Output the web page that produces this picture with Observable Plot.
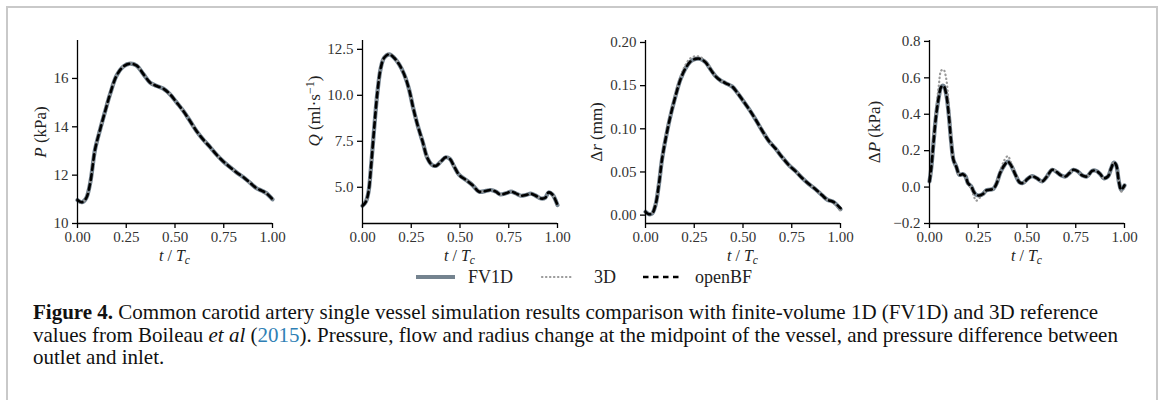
<!DOCTYPE html>
<html>
<head>
<meta charset="utf-8">
<script src="https://cdn.jsdelivr.net/npm/d3@7"></script>
<script src="https://cdn.jsdelivr.net/npm/@observablehq/plot@0.6"></script>
<style>
  html, body { margin: 0; padding: 0; background: #fff; }
  body { width: 1165px; height: 400px; overflow: hidden; position: relative; font-family: "Liberation Serif", serif; }
  #frame { position: absolute; left: 6px; top: 6px; width: 1148px; height: 400px; border: 2px solid #c9c9c9; border-bottom: none; }
  .panel { position: absolute; top: 0; }
  #legend { position: absolute; left: 0; top: 0; }
  #caption { position: absolute; left: 33px; top: 301px; line-height: 22.5px; white-space: nowrap; color: #111; font-size: 18px; }
  #caption .blue { color: #2f7fb5; }
</style>
</head>
<body>
<div id="frame"></div>
<div id="panels"></div>
<svg id="legend" width="1165" height="300"></svg>
<div id="caption">
  <span id="line1"><b>Figure 4.</b> Common carotid artery single vessel simulation results comparison with finite-volume 1D (FV1D) and 3D reference</span><br>
  <span>values from Boileau <i>et al</i> (<span class="blue">2015</span>). Pressure, flow and radius change at the midpoint of the vessel, and pressure difference between</span><br>
  <span>outlet and inlet.</span>
</div>
<script>
// ---------- data ----------
// Panel 1: pressure P (kPa)
const tP      = [0, .022, .044, .065, .09, .116, .142, .167, .2, .236, .27, .304, .338, .372, .406, .44, .474, .509, .543, .577, .611, .645, .679, .713, .747, .782, .816, .85, .884, .918, .944, .969, 1];
const pFV1D   = [10.97, 10.88, 11.04, 11.67, 13.06, 13.89, 14.65, 15.35, 16.11, 16.5, 16.61, 16.53, 16.18, 15.83, 15.69, 15.58, 15.35, 15.0, 14.65, 14.24, 13.82, 13.47, 13.17, 12.85, 12.57, 12.33, 12.11, 11.92, 11.69, 11.46, 11.36, 11.25, 11.0];
const p3D     = [10.97, 10.88, 11.04, 11.67, 13.06, 13.89, 14.65, 15.35, 16.11, 16.5, 16.62, 16.54, 16.18, 15.83, 15.69, 15.58, 15.35, 15.0, 14.65, 14.24, 13.82, 13.47, 13.17, 12.85, 12.57, 12.33, 12.11, 11.92, 11.69, 11.46, 11.36, 11.25, 11.0];
const pOpenBF = [10.97, 10.88, 11.04, 11.67, 13.06, 13.89, 14.65, 15.35, 16.11, 16.5, 16.61, 16.53, 16.18, 15.83, 15.69, 15.58, 15.35, 15.0, 14.65, 14.24, 13.82, 13.47, 13.17, 12.85, 12.57, 12.33, 12.11, 11.92, 11.69, 11.46, 11.36, 11.25, 11.0];

// Panel 2: flow Q (ml/s)
const tQ      = [0, .017, .031, .043, .06, .077, .094, .111, .137, .162, .188, .214, .239, .26, .282, .308, .333, .356, .376, .402, .427, .448, .47, .496, .53, .564, .598, .632, .658, .684, .706, .735, .761, .786, .812, .838, .863, .889, .915, .937, .954, .974, 1];
const qFV1D   = [3.99, 4.21, 4.76, 6.03, 8.22, 10.22, 11.5, 12.04, 12.23, 12.04, 11.68, 11.13, 10.31, 9.31, 8.4, 7.49, 6.58, 6.22, 6.16, 6.4, 6.63, 6.54, 6.13, 5.67, 5.4, 5.12, 4.76, 4.8, 4.85, 4.76, 4.61, 4.67, 4.76, 4.67, 4.54, 4.58, 4.65, 4.54, 4.39, 4.43, 4.72, 4.61, 4.03];
const q3D     = [3.99, 4.21, 4.76, 6.03, 8.22, 10.22, 11.5, 12.06, 12.25, 12.06, 11.68, 11.13, 10.31, 9.31, 8.4, 7.49, 6.58, 6.22, 6.16, 6.4, 6.63, 6.54, 6.13, 5.67, 5.4, 5.12, 4.76, 4.8, 4.85, 4.76, 4.61, 4.67, 4.76, 4.67, 4.54, 4.58, 4.65, 4.54, 4.39, 4.43, 4.72, 4.61, 4.03];
const qOpenBF = [3.99, 4.21, 4.76, 6.03, 8.22, 10.22, 11.5, 12.04, 12.23, 12.04, 11.68, 11.13, 10.31, 9.31, 8.4, 7.49, 6.58, 6.22, 6.16, 6.4, 6.63, 6.54, 6.13, 5.67, 5.4, 5.12, 4.76, 4.8, 4.85, 4.76, 4.61, 4.67, 4.76, 4.67, 4.54, 4.58, 4.65, 4.54, 4.39, 4.43, 4.72, 4.61, 4.03];

// Panel 3: radius change Δr (mm)
const tR      = [0, .017, .034, .051, .068, .085, .103, .128, .154, .179, .205, .231, .256, .282, .308, .333, .359, .385, .41, .444, .47, .496, .53, .564, .598, .632, .667, .701, .735, .769, .803, .838, .872, .906, .932, .966, 1];
const rFV1D   = [.0038, .0011, .0019, .0115, .0345, .065, .088, .115, .138, .157, .170, .178, .181, .181, .177, .169, .161, .156, .153, .149, .142, .134, .123, .111, .098, .086, .077, .067, .058, .051, .043, .036, .030, .023, .018, .015, .007];
const r3D     = [.0040, .0015, .0025, .0125, .036, .067, .090, .117, .140, .160, .174, .182, .184, .183, .178, .170, .161, .156, .153, .149, .142, .134, .123, .111, .098, .086, .077, .067, .058, .051, .043, .036, .030, .023, .018, .014, .005];
const rOpenBF = [.0038, .0011, .0019, .0115, .0345, .065, .088, .115, .138, .157, .170, .178, .181, .181, .177, .169, .161, .156, .153, .149, .142, .134, .123, .111, .098, .086, .077, .067, .058, .051, .043, .036, .030, .023, .018, .015, .008];

// Panel 4: pressure difference ΔP (kPa)
const tD      = [0, .009, .021, .034, .048, .06, .072, .085, .099, .111, .123, .137, .154, .171, .185, .197, .214, .226, .239, .256, .274, .291, .308, .328, .345, .362, .385, .402, .419, .441, .462, .479, .504, .526, .55, .578, .602, .629, .653, .675, .697, .718, .738, .761, .783, .807, .834, .855, .876, .893, .915, .932, .946, .957, .971, .983, 1];
const dFV1D   = [.031, .104, .25, .395, .496, .55, .556, .514, .395, .25, .149, .113, .067, .071, .058, .022, .004, -.024, -.042, -.046, -.038, -.018, -.015, -.009, .022, .077, .122, .140, .118, .067, .026, .022, .046, .06, .049, .031, .058, .095, .082, .064, .058, .077, .095, .086, .064, .058, .089, .089, .071, .049, .058, .104, .135, .122, .031, -.015, .009];
const d3D     = [.03, .10, .26, .42, .56, .64, .645, .60, .45, .27, .15, .11, .066, .07, .056, .02, -.01, -.045, -.075, -.06, -.04, -.02, -.015, -.01, .025, .085, .15, .17, .13, .07, .026, .022, .046, .06, .049, .031, .058, .098, .084, .064, .058, .077, .095, .086, .064, .058, .089, .089, .071, .049, .058, .104, .135, .122, .03, -.025, .0];
const dOpenBF = [.031, .104, .25, .395, .496, .55, .556, .514, .395, .25, .149, .113, .067, .071, .058, .022, .004, -.024, -.042, -.046, -.038, -.018, -.015, -.009, .022, .077, .122, .140, .118, .067, .026, .022, .046, .06, .049, .031, .058, .095, .082, .064, .058, .077, .095, .086, .064, .058, .089, .089, .071, .049, .058, .104, .135, .122, .031, -.015, .009];

// Tick values
const xTicks  = [0, 0.25, 0.5, 0.75, 1];
const pTicks  = [10, 12, 14, 16];
const qTicks  = [5, 7.5, 10, 12.5];
const rTicks  = [0, 0.05, 0.10, 0.15, 0.20];
const dTicks  = [-0.2, 0, 0.2, 0.4, 0.6, 0.8];

// Legend
const seriesNames = ["FV1D", "3D", "openBF"];

// ---------- styles ----------
const FONT = "'Liberation Serif', 'Times New Roman', serif";
const styleFV = { stroke: "#74838f", strokeWidth: 4.2 };
const style3D = { stroke: "#999", strokeWidth: 2.2, strokeDasharray: "0.4,3.6", strokeLinecap: "round" };
const styleOB = { stroke: "#000", strokeWidth: 2.6, strokeDasharray: "5.5,4.5" };

const panels = [
  { left: 7.3,   t: tP, fv: pFV1D, d: p3D, ob: pOpenBF, domain: [10, 17.57], ticks: pTicks, fmt: d3.format("d"),
    label: '<tspan font-style="italic">P</tspan> (kPa)', labelX: 41, labelY: 132 },
  { left: 291.7, t: tQ, fv: qFV1D, d: q3D, ob: qOpenBF, domain: [3.03, 12.98], ticks: qTicks, fmt: d3.format(".1f"),
    label: '<tspan font-style="italic">Q</tspan> (ml·s<tspan dy="-6" font-size="12">−1</tspan><tspan dy="6">)</tspan>', labelX: 315, labelY: 111 },
  { left: 574.7, t: tR, fv: rFV1D, d: r3D, ob: rOpenBF, domain: [-0.0097, 0.2023], ticks: rTicks, fmt: d3.format(".2f"),
    label: 'Δ<tspan font-style="italic">r</tspan> (mm)', labelX: 597, labelY: 132 },
  { left: 858.7, t: tD, fv: dFV1D, d: d3D, ob: dOpenBF, domain: [-0.2, 0.805], ticks: dTicks, fmt: d3.format(".1f"),
    label: 'Δ<tspan font-style="italic">P</tspan> (kPa)', labelX: 875, labelY: 132 }
];

const ML = 70, W = 270, H = 270, MT = 40, MB = 47;
const host = document.getElementById("panels");

for (const p of panels) {
  const data = p.t.map((t, i) => ({ t, fv: p.fv[i], d: p.d[i], ob: p.ob[i] }));
  const svg = Plot.plot({
    width: W, height: H,
    marginLeft: ML, marginRight: W - ML - 195, marginTop: MT, marginBottom: MB,
    style: { fontFamily: FONT, fontSize: "15px", color: "#333", background: "transparent", overflow: "visible" },
    x: { domain: [0, 1] },
    y: { domain: p.domain },
    marks: [
      Plot.line(data, { x: "t", y: "fv", curve: "catmull-rom", strokeLinejoin: "round", ...styleFV }),
      Plot.line(data, { x: "t", y: "d", curve: "catmull-rom", ...style3D }),
      Plot.line(data, { x: "t", y: "ob", curve: "catmull-rom", strokeLinejoin: "round", ...styleOB }),
      Plot.ruleX([0], { stroke: "#000", strokeWidth: 1.3 }),
      Plot.ruleY([p.domain[0]], { stroke: "#000", strokeWidth: 1.3 }),
      Plot.axisX({ ticks: xTicks, tickFormat: d3.format(".2f"), tickSize: 5, tickPadding: 3, label: null,
        stroke: "#000", strokeWidth: 1.3, fill: "#333", fontFamily: FONT, fontSize: 15 }),
      Plot.axisY({ ticks: p.ticks, tickFormat: p.fmt, tickSize: 5, tickPadding: 4, label: null,
        stroke: "#000", strokeWidth: 1.3, fill: "#333", fontFamily: FONT, fontSize: 15 })
    ]
  });
  svg.classList.add("panel");
  svg.style.left = p.left + "px";
  host.appendChild(svg);

  const s = d3.select(svg);
  // y-axis label (rich text)
  s.append("text")
    .attr("transform", `translate(${p.labelX - p.left + 5},${p.labelY}) rotate(-90)`)
    .attr("text-anchor", "middle")
    .attr("font-size", 17).attr("fill", "#222")
    .attr("font-family", FONT)
    .html(p.label);
  // x-axis label t / T_c
  s.append("text")
    .attr("x", ML + 195 / 2).attr("y", 261)
    .attr("text-anchor", "middle")
    .attr("font-size", 16).attr("fill", "#222")
    .attr("font-family", FONT)
    .html('<tspan font-style="italic">t</tspan> / <tspan font-style="italic">T</tspan><tspan font-style="italic" font-size="11.5" dy="3">c</tspan>');
}

// ---------- legend ----------
const leg = d3.select("#legend");
const legY = 277;
const legItems = [
  { x1: 416, x2: 455, tx: 468, st: styleFV },
  { x1: 542, x2: 573, tx: 594, st: style3D },
  { x1: 643, x2: 680, tx: 695, st: styleOB }
];
legItems.forEach((it, i) => {
  const ln = leg.append("line").attr("x1", it.x1).attr("x2", it.x2).attr("y1", legY).attr("y2", legY)
    .attr("stroke", it.st.stroke).attr("stroke-width", it.st.strokeWidth);
  if (it.st.strokeDasharray) ln.attr("stroke-dasharray", it.st.strokeDasharray);
  if (it.st.strokeLinecap) ln.attr("stroke-linecap", it.st.strokeLinecap);
  leg.append("text").attr("x", it.tx).attr("y", legY + 6).attr("font-size", 18)
    .attr("font-family", FONT).attr("fill", "#222").text(seriesNames[i]);
});

// ---------- caption: fit first line to reference width ----------
const l1 = document.getElementById("line1");
const target = 1065;
const w = l1.getBoundingClientRect().width;
document.getElementById("caption").style.fontSize = (18 * target / w).toFixed(2) + "px";
</script>
</body>
</html>
